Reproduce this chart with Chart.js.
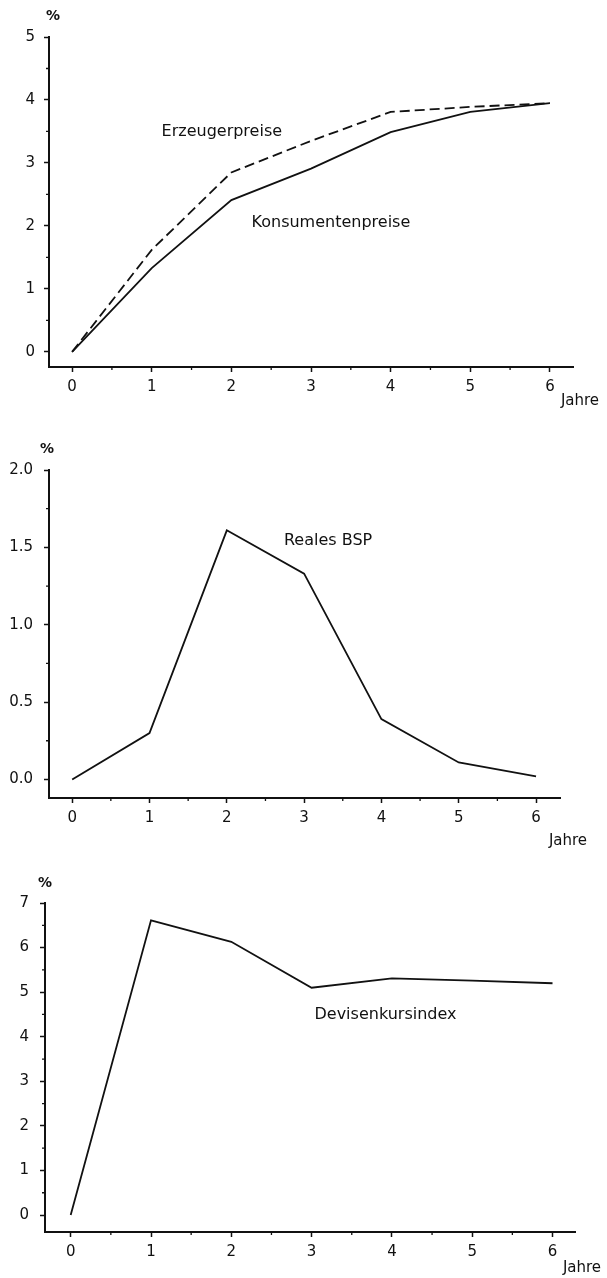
<!DOCTYPE html>
<html>
<head>
<meta charset="utf-8">
<script src="https://cdn.jsdelivr.net/npm/chart.js@4"></script>
<style>
  html, body { margin: 0; padding: 0; background: #fff; }
  .sheet { position: relative; width: 607px; height: 1278px; }
  .sheet canvas { position: absolute; left: 0; }
</style>
</head>
<body>
<div class="sheet">
  <canvas id="preise" width="607" height="420" style="top:0"></canvas>
  <canvas id="bsp" width="607" height="430" style="top:420px"></canvas>
  <canvas id="devisen" width="607" height="428" style="top:850px"></canvas>
</div>
<script>
// --- Daten ---
const jahre = [0, 1, 2, 3, 4, 5, 6];
const jahreLabels = ['0', '1', '2', '3', '4', '5', '6'];
const jahreMinor = [0.5, 1.5, 2.5, 3.5, 4.5, 5.5];

const erzeugerpreise = [0, 1.62, 2.85, 3.35, 3.81, 3.89, 3.95];
const konsumentenpreise = [0, 1.33, 2.41, 2.91, 3.49, 3.81, 3.95];
const preiseTicks = [0, 1, 2, 3, 4, 5];
const preiseLabels = ['0', '1', '2', '3', '4', '5'];
const preiseMinor = [0.5, 1.5, 2.5, 3.5, 4.5];

const realesBsp = [0, 0.30, 1.61, 1.33, 0.39, 0.11, 0.02];
const bspTicks = [0, 0.5, 1, 1.5, 2];
const bspLabels = ['0.0', '0.5', '1.0', '1.5', '2.0'];
const bspMinor = [0.25, 0.75, 1.25, 1.75];

const devisenkursindex = [0, 6.61, 6.13, 5.10, 5.31, 5.26, 5.20];
const devisenTicks = [0, 1, 2, 3, 4, 5, 6, 7];
const devisenLabels = ['0', '1', '2', '3', '4', '5', '6', '7'];
const devisenMinor = [0.5, 1.5, 2.5, 3.5, 4.5, 5.5, 6.5];

// --- Stil ---
const INK = '#111';
const FONT = '"DejaVu Sans", sans-serif';

const pairs = vals => jahre.map((x, i) => ({ x, y: vals[i] }));

// Nebenstriche, "%"-Zeichen, "Jahre" und Kurvenbeschriftungen
function paper(o) {
  return {
    id: 'paper',
    afterDraw(chart) {
      const { ctx, chartArea: a, scales: { x, y } } = chart;
      ctx.save();
      ctx.strokeStyle = INK; ctx.lineWidth = 1.3;
      ctx.beginPath();
      jahreMinor.forEach(v => { const p = x.getPixelForValue(v); ctx.moveTo(p, a.bottom); ctx.lineTo(p, a.bottom + 3); });
      o.yMinor.forEach(v => { const p = y.getPixelForValue(v); ctx.moveTo(a.left, p); ctx.lineTo(a.left - 3, p); });
      ctx.stroke();
      ctx.fillStyle = INK; ctx.textAlign = 'center'; ctx.textBaseline = 'middle';
      ctx.font = 'bold 14px ' + FONT;
      ctx.fillText('%', a.left + o.pct[0], a.top + o.pct[1]);
      ctx.font = '15px ' + FONT;
      ctx.fillText('Jahre', a.right + o.jahre[0], a.bottom + o.jahre[1]);
      ctx.font = '16px ' + FONT;
      o.labels.forEach(l => ctx.fillText(l.text, x.getPixelForValue(l.x), y.getPixelForValue(l.y)));
      ctx.restore();
    }
  };
}

function scales(xr, yr, yTicks, yLabels, yWidth, yPad) {
  const grid = { drawOnChartArea: false, drawTicks: true, tickLength: 5, tickColor: INK, tickWidth: 1.5 };
  const border = { display: true, color: INK, width: 2 };
  return {
    x: {
      type: 'linear', min: xr[0], max: xr[1],
      afterBuildTicks: s => { s.ticks = jahre.map(v => ({ value: v })); },
      afterFit: s => { s.height = 30; },
      grid, border,
      ticks: { color: INK, font: { family: FONT, size: 15 }, padding: 6, maxRotation: 0, autoSkip: false,
               callback: (v, i) => jahreLabels[i] }
    },
    y: {
      type: 'linear', min: yr[0], max: yr[1],
      afterBuildTicks: s => { s.ticks = yTicks.map(v => ({ value: v })); },
      afterFit: s => { s.width = yWidth; },
      grid, border,
      ticks: { color: INK, font: { family: FONT, size: 15 }, padding: yPad, autoSkip: false,
               callback: (v, i) => yLabels[i] }
    }
  };
}

function make(id, datasets, opts) {
  return new Chart(document.getElementById(id), {
    type: 'line',
    data: { datasets: datasets.map(d => ({ borderColor: INK, borderWidth: 1.8, pointRadius: 0, tension: 0, fill: false, ...d })) },
    options: {
      responsive: false, animation: false, events: [],
      layout: { padding: opts.padding },
      plugins: { legend: { display: false }, tooltip: { enabled: false } },
      scales: opts.scales
    },
    plugins: [paper(opts.paper)]
  });
}

make('preise', [
  { data: pairs(erzeugerpreise), borderDash: [10, 5] },
  { data: pairs(konsumentenpreise) }
], {
  padding: { top: 37, right: 34, bottom: 23, left: 0 },
  scales: scales([-0.29, 6.29], [-0.24, 5], preiseTicks, preiseLabels, 49, 9),
  paper: { yMinor: preiseMinor, pct: [4, -21], jahre: [7, 34],
           labels: [{ text: 'Erzeugerpreise', x: 1.88, y: 3.49 }, { text: 'Konsumentenpreise', x: 3.25, y: 2.05 }] }
});

make('bsp', [
  { data: pairs(realesBsp) }
], {
  padding: { top: 50, right: 47, bottom: 22, left: 0 },
  scales: scales([-0.30, 6.31], [-0.12, 2], bspTicks, bspLabels, 49, 11),
  paper: { yMinor: bspMinor, pct: [-2, -21], jahre: [8, 43],
           labels: [{ text: 'Reales BSP', x: 3.31, y: 1.54 }] }
});

make('devisen', [
  { data: pairs(devisenkursindex) }
], {
  padding: { top: 53, right: 32, bottom: 16, left: 0 },
  scales: scales([-0.32, 6.28], [-0.38, 7], devisenTicks, devisenLabels, 45, 11),
  paper: { yMinor: devisenMinor, pct: [0, -20], jahre: [7, 36],
           labels: [{ text: 'Devisenkursindex', x: 3.92, y: 4.48 }] }
});
</script>
</body>
</html>
